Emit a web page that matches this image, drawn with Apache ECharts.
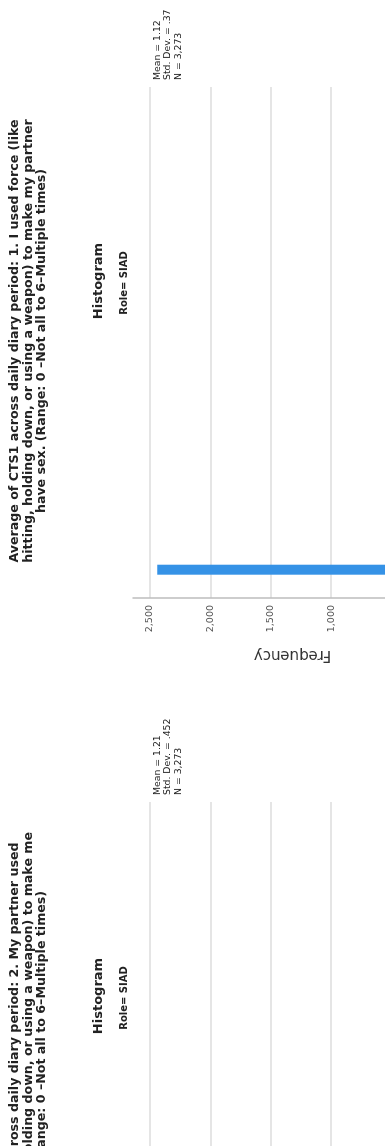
<!DOCTYPE html>
<html>
<head>
<meta charset="utf-8">
<script src="https://cdn.jsdelivr.net/npm/echarts@6/dist/echarts.min.js"></script>
<style>
  html, body { margin: 0; padding: 0; background: #fff; overflow: hidden; width: 385px; height: 1146px; }
  /* the output page is laid out landscape and turned a quarter turn */
  #page { position: absolute; left: 0; top: 0; width: 1346px; height: 470px;
          transform-origin: 0 0; transform: translateY(1346px) rotate(-90deg); }
</style>
</head>
<body>
<div id="page"></div>
<script>
// Histogram bins: bin centres on the CTS average scale
const binCenters1 = [1.00, 1.06, 1.12, 1.18, 1.24, 1.30, 1.36, 1.42, 1.48, 1.54, 1.60, 1.66, 1.72,
                     1.78, 1.84, 1.90, 1.96, 2.02, 2.08, 2.14, 2.20, 2.26, 2.32, 2.38, 2.44];
const counts1 = [2440, 230, 120, 95, 70, 55, 45, 35, 30, 25, 20, 18, 15, 12, 10, 9, 8, 7, 6, 5, 5, 4, 4, 3, 2];

const binCenters2 = [1.00, 1.06, 1.12, 1.18, 1.24, 1.30, 1.36, 1.42, 1.48, 1.54, 1.60, 1.66, 1.72,
                     1.78, 1.84, 1.90, 1.96, 2.02, 2.08, 2.14, 2.20, 2.26, 2.32, 2.38];
const counts2 = [2210, 300, 170, 120, 90, 70, 55, 45, 38, 30, 25, 20, 18, 15, 12, 10, 9, 8, 7, 6, 5, 4, 3, 3];

// Frequency axis ticks
const freqTicks = [0, 500, 1000, 1500, 2000, 2500];

const titles1 = [
  'Average of CTS1 across daily diary period: 1. I used force (like',
  'hitting, holding down, or using a weapon) to make my partner',
  'have sex. (Range: 0 \u2013Not all to 6\u2013Multiple times)'
];
const titles2 = [
  'Average of CTS2 across daily diary period: 2. My partner used',
  'force (like hitting, holding down, or using a weapon) to make me',
  'have sex. (Range: 0 \u2013Not all to 6\u2013Multiple times)'
];
const stats1 = ['Mean = 1.12', 'Std. Dev. = .37', 'N = 3,273'];
const stats2 = ['Mean = 1.21', 'Std. Dev. = .452', 'N = 3,273'];
const heading = 'Histogram';
const panel = 'Role= SIAD';

const BIN = 0.06;
const FONT = '"DejaVu Sans", Verdana, sans-serif';
const BAR = '#3592e6';

function histRender(params, api) {
  const c = api.value(0), n = api.value(1);
  const p0 = api.coord([c - BIN / 2, n]);
  const p1 = api.coord([c + BIN / 2, 0]);
  return {
    type: 'rect',
    shape: { x: p0[0], y: p0[1], width: p1[0] - p0[0], height: p1[1] - p0[1] },
    style: { fill: BAR }
  };
}

function freqAxis(gridIndex) {
  return {
    type: 'value', gridIndex: gridIndex,
    min: freqTicks[0], max: 2640, interval: freqTicks[1] - freqTicks[0],
    name: 'Frequency', nameLocation: 'middle', nameGap: 49,
    nameTextStyle: { fontFamily: FONT, fontSize: 15, color: '#333' },
    axisLine: { show: true, lineStyle: { color: '#bdbdbd', width: 1.5 } },
    axisTick: { show: false },
    axisLabel: { showMaxLabel: false, margin: 7, fontFamily: FONT, fontSize: 9.5, color: '#555',
                 formatter: v => v.toLocaleString('en-US') },
    splitLine: { show: true, showMaxLine: false, lineStyle: { color: '#dddddd', width: 1.5 } }
  };
}

function valueAxis(gridIndex) {
  return {
    type: 'value', gridIndex: gridIndex, min: 0.83, max: 3.9,
    axisLine: { show: true, lineStyle: { color: '#bdbdbd', width: 1.5 } },
    axisTick: { show: false },
    axisLabel: { fontFamily: FONT, fontSize: 9.5, color: '#555' },
    splitLine: { show: false }
  };
}

function textEl(x, y, text, font, align) {
  return {
    type: 'text', x: x, y: y, silent: true,
    style: {
      text: text, font: font, fill: '#222',
      align: align, textAlign: align,
      verticalAlign: 'middle', textVerticalAlign: 'middle'
    }
  };
}

// header, title block and statistics for one panel, placed around its plot
function panelText(cx, headX, statsX, titleLines, stats) {
  const els = [];
  titleLines.forEach((t, i) => els.push(textEl(cx, 15 + i * 13.4, t, 'bold 12.6px ' + FONT, 'center')));
  els.push(textEl(headX, 99, heading, 'bold 13px ' + FONT, 'center'));
  els.push(textEl(headX - 2, 124.5, panel, 'bold 10px ' + FONT, 'center'));
  stats.forEach((s, i) => els.push(textEl(statsX, 157.5 + i * 10.4, s, '9.3px ' + FONT, 'left')));
  return els;
}

const chart = echarts.init(document.getElementById('page'), null, { renderer: 'canvas' });
chart.setOption({
  animation: false,
  backgroundColor: '#fff',
  grid: [
    { left: 748, top: 133, width: 511, height: 322 },
    { left: 33, top: 133, width: 511, height: 322 }
  ],
  xAxis: [valueAxis(0), valueAxis(1)],
  yAxis: [freqAxis(0), freqAxis(1)],
  series: [
    { type: 'custom', xAxisIndex: 0, yAxisIndex: 0, renderItem: histRender,
      data: binCenters1.map((c, i) => [c, counts1[i]]) },
    { type: 'custom', xAxisIndex: 1, yAxisIndex: 1, renderItem: histRender,
      data: binCenters2.map((c, i) => [c, counts2[i]]) }
  ],
  graphic: [].concat(
    panelText(1005, 1065, 1266, titles1, stats1),
    panelText(283, 350, 551, titles2, stats2)
  )
});
</script>
</body>
</html>
